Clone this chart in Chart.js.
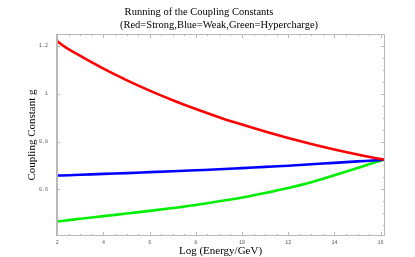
<!DOCTYPE html>
<html>
<head>
<meta charset="utf-8">
<script src="https://cdn.jsdelivr.net/npm/chart.js@4/dist/chart.umd.min.js"></script>
<style>
  html, body { margin: 0; padding: 0; background: #fff; }
  #wrap { width: 415px; height: 257px; }
</style>
</head>
<body>
<div id="wrap"><canvas id="c" width="415" height="257"></canvas></div>
<script>
// ---- data ----
const energy = [1.955, 2.0, 2.1, 3, 4, 5, 6, 7, 8, 9, 10, 11, 12, 13, 14, 15, 16, 16.2];
const strong = [1.236, 1.222, 1.212, 1.158, 1.105, 1.057, 1.013, 0.973, 0.936, 0.902, 0.871, 0.842, 0.815, 0.790, 0.767, 0.746, 0.727, 0.724];
const weak   = [0.658, 0.658, 0.658, 0.661, 0.665, 0.668, 0.672, 0.676, 0.680, 0.684, 0.689, 0.694, 0.699, 0.705, 0.711, 0.717, 0.723, 0.724];
const hyper  = [0.466, 0.466, 0.467, 0.477, 0.488, 0.499, 0.510, 0.522, 0.535, 0.550, 0.566, 0.585, 0.606, 0.630, 0.659, 0.689, 0.720, 0.724];
const xTicks = [2, 4, 6, 8, 10, 12, 14, 16];
const yTicks = [0.6, 0.8, 1, 1.2];
const titleLine1 = "Running of the Coupling Constants";
const titleLine2 = "(Red=Strong,Blue=Weak,Green=Hypercharge)";
const xTitle = "Log (Energy/GeV)";
const yTitle = "Coupling Constant g";

const toPts = ys => energy.map((x, i) => ({ x: x, y: ys[i] }));

const frameColor = '#b8b8b8';

const framePlugin = {
  id: 'frame',
  afterDraw(chart) {
    const { ctx, chartArea: a, scales } = chart;
    const xs = scales.x, ys = scales.y;
    ctx.save();
    ctx.strokeStyle = frameColor;
    ctx.lineWidth = 1;
    ctx.strokeRect(a.left + 0.5, a.top + 0.5, a.right - a.left - 1, a.bottom - a.top - 1);
    ctx.lineWidth = 2;
    ctx.beginPath();
    ctx.moveTo(a.left + 1, a.top); ctx.lineTo(a.left + 1, a.bottom);
    ctx.stroke();
    ctx.lineWidth = 1;
    const major = 4, minor = 2;
    ctx.beginPath();
    for (let v = 2; v <= 16.001; v += 0.5) {
      const px = Math.round(xs.getPixelForValue(v)) + 0.5;
      const isMajor = xTicks.some(t => Math.abs(t - v) < 1e-6);
      const L = isMajor ? major : minor;
      ctx.moveTo(px, a.bottom); ctx.lineTo(px, a.bottom - L);
      ctx.moveTo(px, a.top); ctx.lineTo(px, a.top + L);
    }
    for (let v = 0.45; v <= 1.2501; v += 0.05) {
      const py = Math.round(ys.getPixelForValue(v)) + 0.5;
      const isMajor = yTicks.some(t => Math.abs(t - v) < 1e-6);
      const L = isMajor ? major : minor;
      ctx.moveTo(a.left, py); ctx.lineTo(a.left + L, py);
      ctx.moveTo(a.right, py); ctx.lineTo(a.right - L, py);
    }
    ctx.stroke();
    ctx.fillStyle = '#000';
    ctx.font = '10.5px "Liberation Serif", "Times New Roman", serif';
    ctx.textAlign = 'center';
    ctx.textBaseline = 'middle';
    ctx.fillText(titleLine1, 199, 12);
    ctx.fillText(titleLine2, 219, 25);
    ctx.restore();
  }
};

new Chart(document.getElementById('c'), {
  type: 'scatter',
  data: {
    datasets: [
      { label: 'Strong', data: toPts(strong), borderColor: '#ff0000', backgroundColor: '#ff0000' },
      { label: 'Weak', data: toPts(weak), borderColor: '#0000ff', backgroundColor: '#0000ff' },
      { label: 'Hypercharge', data: toPts(hyper), borderColor: '#00ee00', backgroundColor: '#00ee00' }
    ]
  },
  options: {
    responsive: false,
    animation: false,
    showLine: true,
    elements: {
      point: { radius: 0, hoverRadius: 0 },
      line: { borderWidth: 2.6, cubicInterpolationMode: 'monotone', borderCapStyle: 'butt' }
    },
    layout: { padding: { top: 34, right: 30, left: 0, bottom: 0 } },
    plugins: { legend: { display: false }, tooltip: { enabled: false }, title: { display: false } },
    scales: {
      x: {
        type: 'linear', min: 1.945, max: 16.19,
        grid: { display: false, drawTicks: false },
        border: { display: false },
        afterBuildTicks: s => { s.ticks = xTicks.map(v => ({ value: v })); },
        afterFit: s => { s.height = 21; },
        ticks: {
          padding: 4, color: '#555', maxRotation: 0, autoSkip: false,
          font: { family: '"Liberation Mono", "DejaVu Sans Mono", monospace', size: 5 },
          callback: v => String(v)
        },
        title: {
          display: true, text: xTitle, color: '#000',
          font: { family: '"Liberation Serif", "Times New Roman", serif', size: 11, lineHeight: 1.1 },
          padding: { top: 0, bottom: 0 }
        }
      },
      y: {
        type: 'linear', min: 0.405, max: 1.25,
        grid: { display: false, drawTicks: false },
        border: { display: false },
        afterBuildTicks: s => { s.ticks = yTicks.map(v => ({ value: v })); },
        afterFit: s => { s.width = 56; },
        ticks: {
          padding: 8, color: '#555', autoSkip: false,
          font: { family: '"Liberation Mono", "DejaVu Sans Mono", monospace', size: 5 },
          callback: v => String(parseFloat(v.toFixed(2)))
        },
        title: {
          display: true, text: yTitle, color: '#000',
          font: { family: '"Liberation Serif", "Times New Roman", serif', size: 11, lineHeight: 1.1 },
          padding: { top: 26, bottom: 0 }
        }
      }
    }
  },
  plugins: [framePlugin]
});
</script>
</body>
</html>
